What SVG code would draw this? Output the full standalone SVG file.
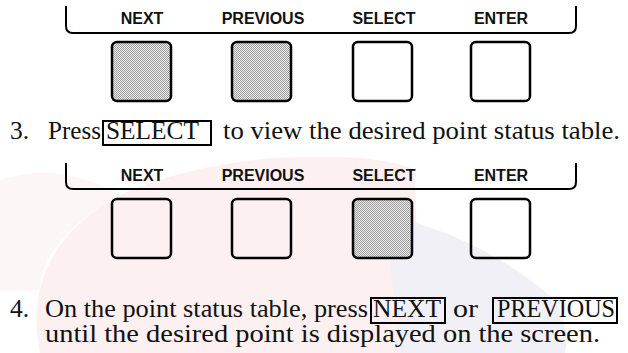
<svg xmlns="http://www.w3.org/2000/svg" width="628" height="353" viewBox="0 0 628 353">
  <defs>
    <pattern id="stipple" width="2" height="2" patternUnits="userSpaceOnUse">
      <rect width="2" height="2" fill="#efefef"/>
      <rect width="1" height="1" fill="#9c9c9c"/>
      <rect x="1" y="1" width="1" height="1" fill="#9c9c9c"/>
    </pattern>
  </defs>
  <style>
    .bracket { fill: none; stroke: #000; stroke-width: 2; }
    .btn { fill: none; stroke: #000; stroke-width: 2.5; }
    .btn.on { fill: url(#stipple); }
    .lbl { font-family: "Liberation Sans", Arial, sans-serif; font-weight: bold; font-size: 16px; fill: #111; text-anchor: middle; }
    .body { font-family: "Liberation Serif", "Times New Roman", serif; font-size: 25.5px; fill: #111; }
    .kbox { fill: none; stroke: #000; stroke-width: 2; }
  </style>
  <rect width="628" height="353" fill="#fff"/>
  <!-- faint watermark -->
  <g id="watermark">
    <path d="M40,353 Q20,250 120,195 Q220,150 360,158 Q400,162 415,170 L420,353 Z" fill="#fcf0f1"/>
    <path d="M0,290 L0,180 Q60,160 120,195 Q40,240 40,290 Z" fill="#fdf6f6"/>
    <path d="M385,215 Q480,235 555,300 Q570,330 565,353 L400,353 Z" fill="#f1f0f6"/>
  </g>

  <g id="group1">
    <path class="bracket" d="M66,6 L66,26 Q66,33 73,33 L569,33 Q576,33 576,26 L576,6"/>
    <g id="g1-next">
      <text class="lbl" x="142" y="24">NEXT</text>
      <rect class="btn on" x="112" y="42" width="59" height="59" rx="5"/>
    </g>
    <g id="g1-previous">
      <text class="lbl" x="263" y="24">PREVIOUS</text>
      <rect class="btn on" x="232" y="42" width="59" height="59" rx="5"/>
    </g>
    <g id="g1-select">
      <text class="lbl" x="384" y="24">SELECT</text>
      <rect class="btn" x="353" y="42" width="59" height="59" rx="5"/>
    </g>
    <g id="g1-enter">
      <text class="lbl" x="501" y="24">ENTER</text>
      <rect class="btn" x="471" y="42" width="59" height="59" rx="5"/>
    </g>
  </g>

  <g id="step3">
    <text class="body" x="10" y="139">3.</text>
    <text class="body" x="48" y="139" textLength="53" lengthAdjust="spacingAndGlyphs">Press</text>
    <rect class="kbox" x="103" y="121" width="108" height="24"/>
    <text class="body" x="106" y="139" textLength="93" lengthAdjust="spacingAndGlyphs">SELECT</text>
    <text class="body" x="223" y="139" textLength="397" lengthAdjust="spacingAndGlyphs">to view the desired point status table.</text>
  </g>

  <g id="group2">
    <path class="bracket" d="M66,163 L66,182 Q66,189 73,189 L569,189 Q576,189 576,182 L576,163"/>
    <g id="g2-next">
      <text class="lbl" x="142" y="181">NEXT</text>
      <rect class="btn" x="112" y="199" width="59" height="59" rx="5"/>
    </g>
    <g id="g2-previous">
      <text class="lbl" x="263" y="181">PREVIOUS</text>
      <rect class="btn" x="232" y="199" width="59" height="59" rx="5"/>
    </g>
    <g id="g2-select">
      <text class="lbl" x="384" y="181">SELECT</text>
      <rect class="btn on" x="353" y="199" width="59" height="59" rx="5"/>
    </g>
    <g id="g2-enter">
      <text class="lbl" x="501" y="181">ENTER</text>
      <rect class="btn" x="471" y="199" width="59" height="59" rx="5"/>
    </g>
  </g>

  <g id="step4">
    <text class="body" x="10" y="317">4.</text>
    <text class="body" x="45" y="317" textLength="323" lengthAdjust="spacingAndGlyphs">On the point status table, press</text>
    <rect class="kbox" x="371" y="298" width="74" height="25"/>
    <text class="body" x="373" y="317" textLength="68" lengthAdjust="spacingAndGlyphs">NEXT</text>
    <text class="body" x="453" y="317" textLength="25" lengthAdjust="spacingAndGlyphs">or</text>
    <rect class="kbox" x="493" y="298" width="124" height="25"/>
    <text class="body" x="497" y="317" textLength="118" lengthAdjust="spacingAndGlyphs">PREVIOUS</text>
    <text class="body" x="45" y="342" textLength="555" lengthAdjust="spacingAndGlyphs">until the desired point is displayed on the screen.</text>
  </g>
</svg>
